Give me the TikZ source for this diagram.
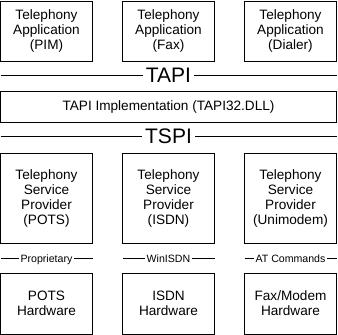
\documentclass[tikz,border=0pt]{standalone}
\usepackage{fontspec}
\setmainfont{Liberation Sans}
\usepackage{tikz}
\usetikzlibrary{positioning}

\begin{document}
\begin{tikzpicture}[
  x=1pt, y=-1pt, node distance=30pt,
  box/.style={draw, line width=0.8pt, align=center, outer sep=0pt, inner sep=0pt,
              minimum width=92pt, font=\fontsize{13.6}{15}\selectfont},
  app/.style={box, minimum height=60pt},
  impl/.style={box, minimum width=336pt, minimum height=31pt},
  sp/.style={box, minimum height=90pt},
  hw/.style={box, minimum height=61pt},
  iface/.style={inner sep=3pt, outer sep=0pt, text depth=0pt, font=\fontsize{21}{24}\selectfont},
  proto/.style={inner sep=1.5pt, outer sep=0pt, text depth=0pt, font=\fontsize{10.6}{12}\selectfont},
  bus/.style={line width=0.8pt}
]
\useasboundingbox (0,0) rectangle (338,335);

\node[app] (pim) at (46.5,31) {Telephony\\Application\\(PIM)};
\node[app, right=of pim] (fax) {Telephony\\Application\\(Fax)};
\node[app, right=of fax] (dialer) {Telephony\\Application\\(Dialer)};

\node[iface] (tapi) at (168.5,75.5) {TAPI};
\node[impl] (impl) at (168.5,106.5) {TAPI Implementation (TAPI32.DLL)};
\node[iface] (tspi) at (168.5,136.5) {TSPI};

\node[sp] (pots) at (46.5,198) {Telephony\\Service\\Provider\\(POTS)};
\node[sp, right=of pots] (isdn) {Telephony\\Service\\Provider\\(ISDN)};
\node[sp, right=of isdn] (unimodem) {Telephony\\Service\\Provider\\(Unimodem)};

\node[proto] (prop) at (46.5,258.5) {Proprietary};
\node[proto] (winisdn) at (168.5,258.5) {WinISDN};
\node[proto] (atcmd) at (290.5,258.5) {AT Commands};

\node[hw] (potshw) at (46.5,303.5) {POTS\\Hardware};
\node[hw, right=of potshw] (isdnhw) {ISDN\\Hardware};
\node[hw, right=of isdnhw] (modemhw) {Fax/Modem\\Hardware};

\draw[bus] (pim.west |- tapi) -- (tapi);
\draw[bus] (tapi) -- (dialer.east |- tapi);
\draw[bus] (pim.west |- tspi) -- (tspi);
\draw[bus] (tspi) -- (dialer.east |- tspi);

\draw[bus] (pots.west |- prop) -- (prop);
\draw[bus] (prop) -- (pots.east |- prop);
\draw[bus] (isdn.west |- winisdn) -- (winisdn);
\draw[bus] (winisdn) -- (isdn.east |- winisdn);
\draw[bus] (unimodem.west |- atcmd) -- (atcmd);
\draw[bus] (atcmd) -- (unimodem.east |- atcmd);
\end{tikzpicture}
\end{document}
